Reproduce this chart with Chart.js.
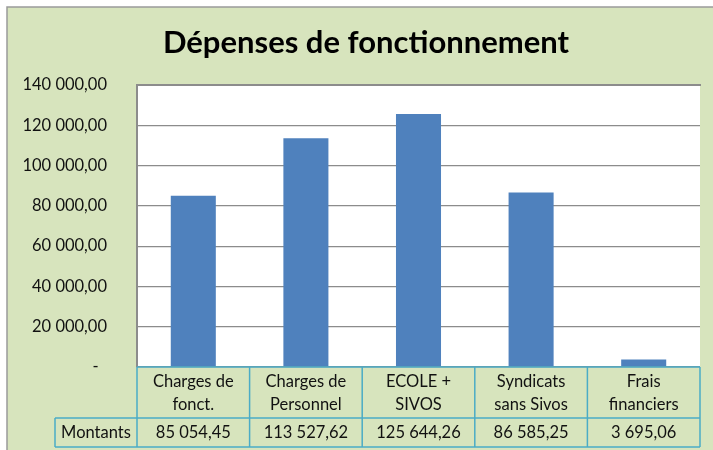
<!DOCTYPE html>
<html>
<head>
<meta charset="utf-8">
<script src="https://cdn.jsdelivr.net/npm/chart.js@4"></script>
<style>
  body { margin: 0; background: #fff; }
  canvas { display: block; }
</style>
</head>
<body>
<canvas id="barChart" width="713" height="450"></canvas>
<script>
// donnees du graphique
const titre = 'Dépenses de fonctionnement'
const categories = [
  ['Charges de', 'fonct.'],
  ['Charges de', 'Personnel'],
  ['ECOLE +', 'SIVOS'],
  ['Syndicats', 'sans Sivos'],
  ['Frais', 'financiers']
]
const serieNom = 'Montants'
const montants = [85054.45, 113527.62, 125644.26, 86585.25, 3695.06]
const yMax = 140000
const yPas = 20000

const vert = '#D7E4BD'
const bleu = '#4F81BD'
const bordTable = '#4BACC6'
const police = 'Lato'
const taille = 16.5

// format francais : 113 527,62
function formatFr(v) {
  const parts = v.toFixed(2).split('.')
  const ent = parts[0].replace(/\B(?=(\d{3})+(?!\d))/g, ' ')
  return ent + ',' + parts[1]
}

const fond = {
  id: 'fond',
  beforeDraw(chart) {
    const ctx = chart.ctx
    const a = chart.chartArea
    ctx.save()
    ctx.fillStyle = '#fff'
    ctx.fillRect(0, 0, chart.width, chart.height)
    ctx.fillStyle = vert
    ctx.fillRect(7, 7, chart.width - 7, chart.height - 7)
    ctx.strokeStyle = '#9a9a9a'
    ctx.lineWidth = 1.5
    ctx.beginPath()
    ctx.moveTo(7, chart.height)
    ctx.lineTo(7, 7)
    ctx.lineTo(chart.width, 7)
    ctx.stroke()
    ctx.fillStyle = '#fff'
    ctx.fillRect(a.left, a.top, a.right - a.left, a.bottom - a.top)
    ctx.restore()
  }
}

const tableau = {
  id: 'tableau',
  afterDraw(chart) {
    const ctx = chart.ctx
    const a = chart.chartArea
    const x = chart.scales.x
    const n = categories.length
    const col = (a.right - a.left) / n
    const rang1 = a.bottom + 51
    const rang2 = rang1 + 29
    const gauche = 55

    ctx.save()
    // titre (centre sur la zone verte)
    ctx.fillStyle = '#000'
    ctx.font = 'bold 31px ' + police
    ctx.textAlign = 'center'
    ctx.textBaseline = 'middle'
    ctx.fillText(titre, 366, 43)

    // bord du trace
    ctx.strokeStyle = '#8c8c8c'
    ctx.lineWidth = 2
    ctx.beginPath()
    ctx.moveTo(a.left, a.bottom)
    ctx.lineTo(a.left, a.top)
    ctx.lineTo(a.right + 1, a.top)
    ctx.stroke()

    ctx.strokeStyle = bordTable
    ctx.lineWidth = 1.5
    ctx.beginPath()
    ctx.moveTo(a.left, a.bottom); ctx.lineTo(a.right, a.bottom)
    ctx.moveTo(gauche, rang1); ctx.lineTo(a.right, rang1)
    ctx.moveTo(gauche, rang2); ctx.lineTo(a.right, rang2)
    ctx.moveTo(gauche, rang1); ctx.lineTo(gauche, rang2)
    for (let i = 0; i <= n; i++) {
      const xx = a.left + col * i
      ctx.moveTo(xx, a.bottom); ctx.lineTo(xx, rang2)
    }
    ctx.stroke()

    ctx.fillStyle = '#111'
    ctx.font = taille + 'px ' + police
    categories.forEach((lab, i) => {
      const cx = x.getPixelForValue(i)
      ctx.fillText(lab[0], cx, a.bottom + 15)
      ctx.fillText(lab[1], cx, a.bottom + 38)
      ctx.fillText(formatFr(montants[i]), cx, rang1 + 15)
    })
    ctx.fillText(serieNom, (gauche + a.left) / 2, rang1 + 15)
    ctx.restore()
  }
}

const chat = document.getElementById('barChart')
const barChart = new Chart(chat, {
  type: 'bar',
  data: {
    labels: categories,
    datasets: [{
      label: serieNom,
      data: montants,
      backgroundColor: bleu,
      barPercentage: 0.4,
      categoryPercentage: 1
    }]
  },
  options: {
    responsive: false,
    animation: false,
    layout: { padding: { top: 85, right: 13, bottom: 0, left: 0 } },
    plugins: {
      legend: { display: false },
      tooltip: { enabled: false },
      title: { display: false }
    },
    scales: {
      x: {
        grid: { display: false },
        border: { display: false },
        ticks: { display: false },
        afterFit(scale) { scale.height = 83 }
      },
      y: {
        min: 0,
        max: yMax,
        ticks: {
          stepSize: yPas,
          padding: 30,
          color: '#111',
          font: { family: police, size: taille },
          callback: v => v === 0 ? '-  ' : formatFr(v)
        },
        grid: { color: '#8c8c8c', lineWidth: 1.2, drawTicks: false },
        border: { display: true, color: '#8c8c8c', width: 2 },
        afterFit(scale) { scale.width = 137 }
      }
    }
  },
  plugins: [fond, tableau]
})
</script>
</body>
</html>
